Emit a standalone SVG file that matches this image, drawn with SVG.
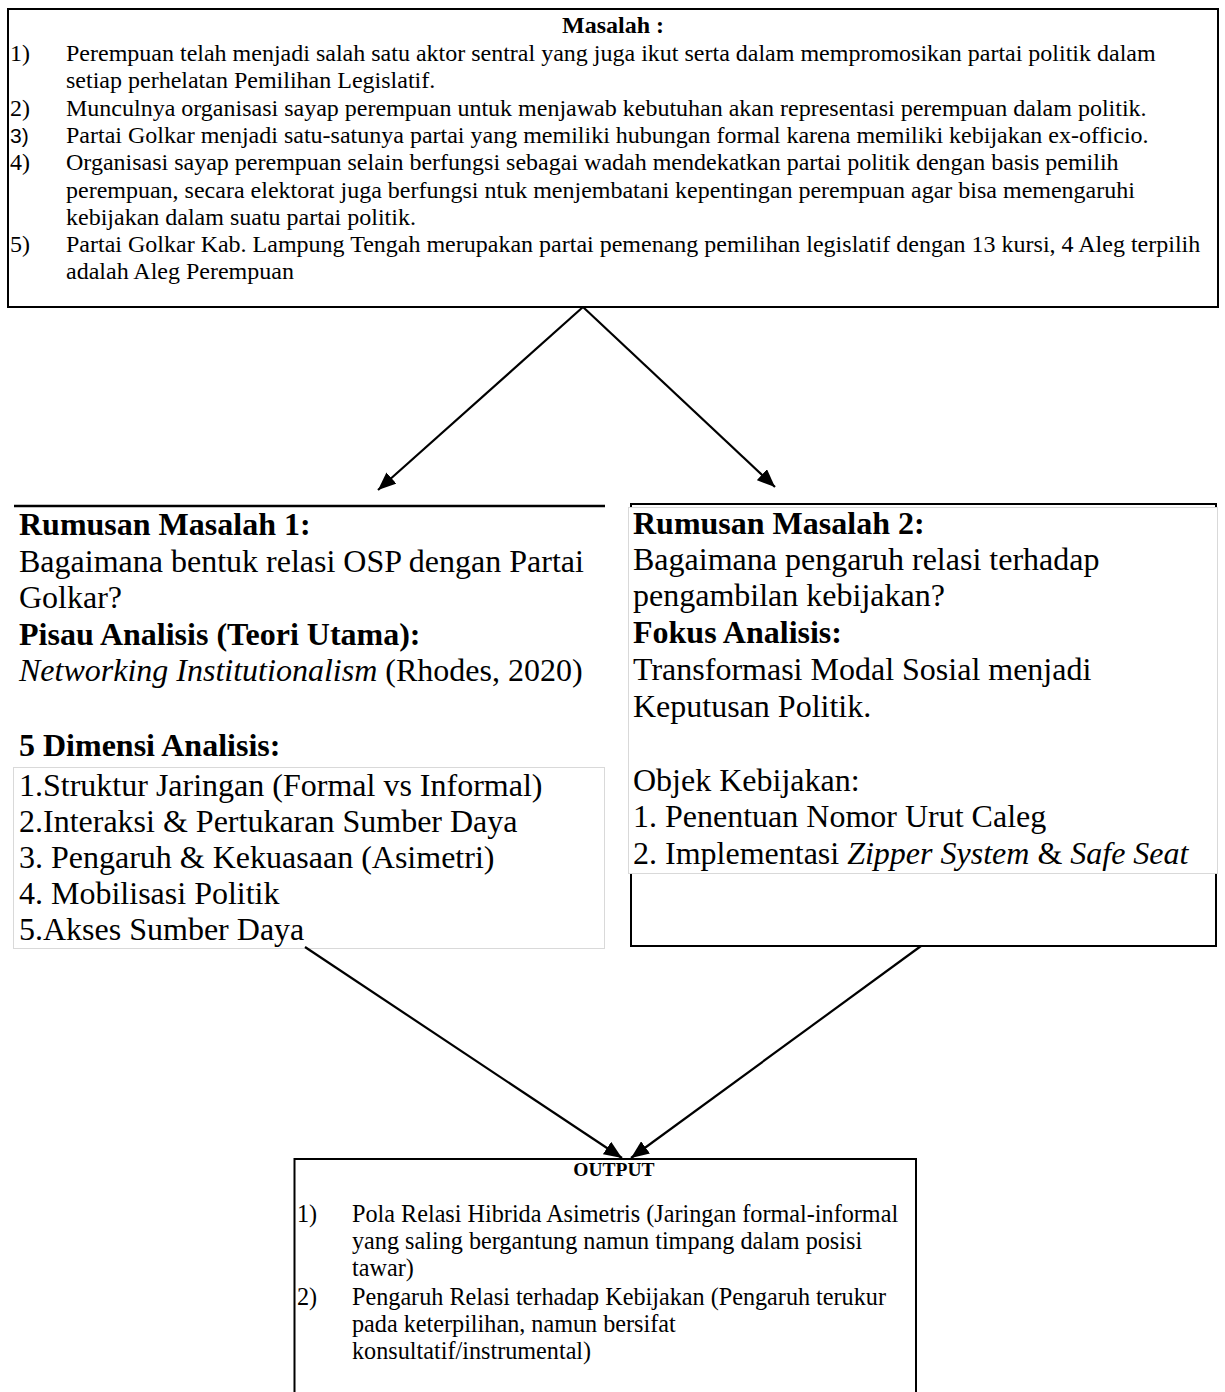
<svg xmlns="http://www.w3.org/2000/svg" width="1225" height="1392" viewBox="0 0 1225 1392">
<style>
.t{font-family:"Liberation Serif","Times New Roman",serif;fill:#000}
.s{font-size:24px}
.n{font-size:32px}
.o{font-size:24.2px}
.b{font-weight:bold}
.i{font-style:italic}
.box{fill:#fff;stroke:#000;stroke-width:2}
.gbox{fill:#fff;stroke:#d9d9d9;stroke-width:1}
.con{stroke:#000;stroke-width:2.2;fill:none;marker-end:url(#ah)}
</style>
<defs>
<marker id="ah" markerUnits="userSpaceOnUse" markerWidth="19" markerHeight="15" refX="18" refY="7.5" orient="auto">
<path d="M0,0 L18,7.5 L0,15 z" fill="#000"/>
</marker>
</defs>
<rect width="1225" height="1392" fill="#fff"/>

<g id="masalah">
<rect class="box" x="8" y="9" width="1210" height="298"/>
<text class="t s b" x="613" y="33" text-anchor="middle">Masalah :</text>
<g class="t s">
<text x="10" y="61">1)</text><text x="66" y="61">Perempuan telah menjadi salah satu aktor sentral yang juga ikut serta dalam mempromosikan partai politik dalam</text>
<text x="66" y="88.3">setiap perhelatan Pemilihan Legislatif.</text>
<text x="10" y="115.6">2)</text><text x="66" y="115.6">Munculnya organisasi sayap perempuan untuk menjawab kebutuhan akan representasi perempuan dalam politik.</text>
<text x="10" y="142.9" style="font-family:'Liberation Sans',Arial,sans-serif;font-size:21px">3)</text><text x="66" y="142.9">Partai Golkar menjadi satu-satunya partai yang memiliki hubungan formal karena memiliki kebijakan ex-officio.</text>
<text x="10" y="170.2">4)</text><text x="66" y="170.2">Organisasi sayap perempuan selain berfungsi sebagai wadah mendekatkan partai politik dengan basis pemilih</text>
<text x="66" y="197.5">perempuan, secara elektorat juga berfungsi ntuk menjembatani kepentingan perempuan agar bisa memengaruhi</text>
<text x="66" y="224.8">kebijakan dalam suatu partai politik.</text>
<text x="10" y="252.1">5)</text><text x="66" y="252.1">Partai Golkar Kab. Lampung Tengah merupakan partai pemenang pemilihan legislatif dengan 13 kursi, 4 Aleg terpilih</text>
<text x="66" y="279.4">adalah Aleg Perempuan</text>
</g>
</g>

<g id="rumusan1">
<line x1="14" y1="506" x2="605" y2="506" stroke="#000" stroke-width="2.5"/>
<text class="t n b" x="19" y="535">Rumusan Masalah 1:</text>
<text class="t n" x="19" y="571.5">Bagaimana bentuk relasi OSP dengan Partai</text>
<text class="t n" x="19" y="608">Golkar?</text>
<text class="t n b" x="19" y="644.5">Pisau Analisis (Teori Utama):</text>
<text class="t n" x="19" y="681"><tspan class="i">Networking Institutionalism</tspan> (Rhodes, 2020)</text>
<text class="t n b" x="19" y="756">5 Dimensi Analisis:</text>
<rect class="gbox" x="13.5" y="767.5" width="591" height="181"/>
<text class="t n" x="19" y="796">1.Struktur Jaringan (Formal vs Informal)</text>
<text class="t n" x="19" y="832">2.Interaksi &amp; Pertukaran Sumber Daya</text>
<text class="t n" x="19" y="868">3. Pengaruh &amp; Kekuasaan (Asimetri)</text>
<text class="t n" x="19" y="904">4. Mobilisasi Politik</text>
<text class="t n" x="19" y="940">5.Akses Sumber Daya</text>
</g>

<g id="rumusan2">
<rect class="box" x="631" y="504" width="585" height="442"/>
<rect class="gbox" x="628.5" y="507.5" width="589" height="366"/>
<text class="t n b" x="633" y="534">Rumusan Masalah 2:</text>
<text class="t n" x="633" y="570">Bagaimana pengaruh relasi terhadap</text>
<text class="t n" x="633" y="606">pengambilan kebijakan?</text>
<text class="t n b" x="633" y="643">Fokus Analisis:</text>
<text class="t n" x="633" y="680">Transformasi Modal Sosial menjadi</text>
<text class="t n" x="633" y="717">Keputusan Politik.</text>
<text class="t n" x="633" y="791">Objek Kebijakan:</text>
<text class="t n" x="633" y="827">1. Penentuan Nomor Urut Caleg</text>
<text class="t n" x="633" y="864">2. Implementasi <tspan class="i">Zipper System</tspan> &amp; <tspan class="i">Safe Seat</tspan></text>
</g>

<g id="output">
<rect class="box" x="294.5" y="1159" width="621.5" height="250"/>
<text class="t b" x="614" y="1176" text-anchor="middle" style="font-size:19.5px">OUTPUT</text>
<g class="t o">
<text x="297" y="1222">1)</text><text x="352" y="1222">Pola Relasi Hibrida Asimetris (Jaringan formal-informal</text>
<text x="352" y="1249">yang saling bergantung namun timpang dalam posisi</text>
<text x="352" y="1276">tawar)</text>
<text x="297" y="1305">2)</text><text x="352" y="1305">Pengaruh Relasi terhadap Kebijakan (Pengaruh terukur</text>
<text x="352" y="1332">pada keterpilihan, namun bersifat</text>
<text x="352" y="1359">konsultatif/instrumental)</text>
</g>
</g>

<g id="connectors">
<line class="con" x1="583" y1="307" x2="378" y2="490"/>
<line class="con" x1="583" y1="307" x2="775" y2="487"/>
<line class="con" x1="305" y1="947" x2="622" y2="1158"/>
<line class="con" x1="921" y1="946" x2="631" y2="1158"/>
</g>
</svg>
